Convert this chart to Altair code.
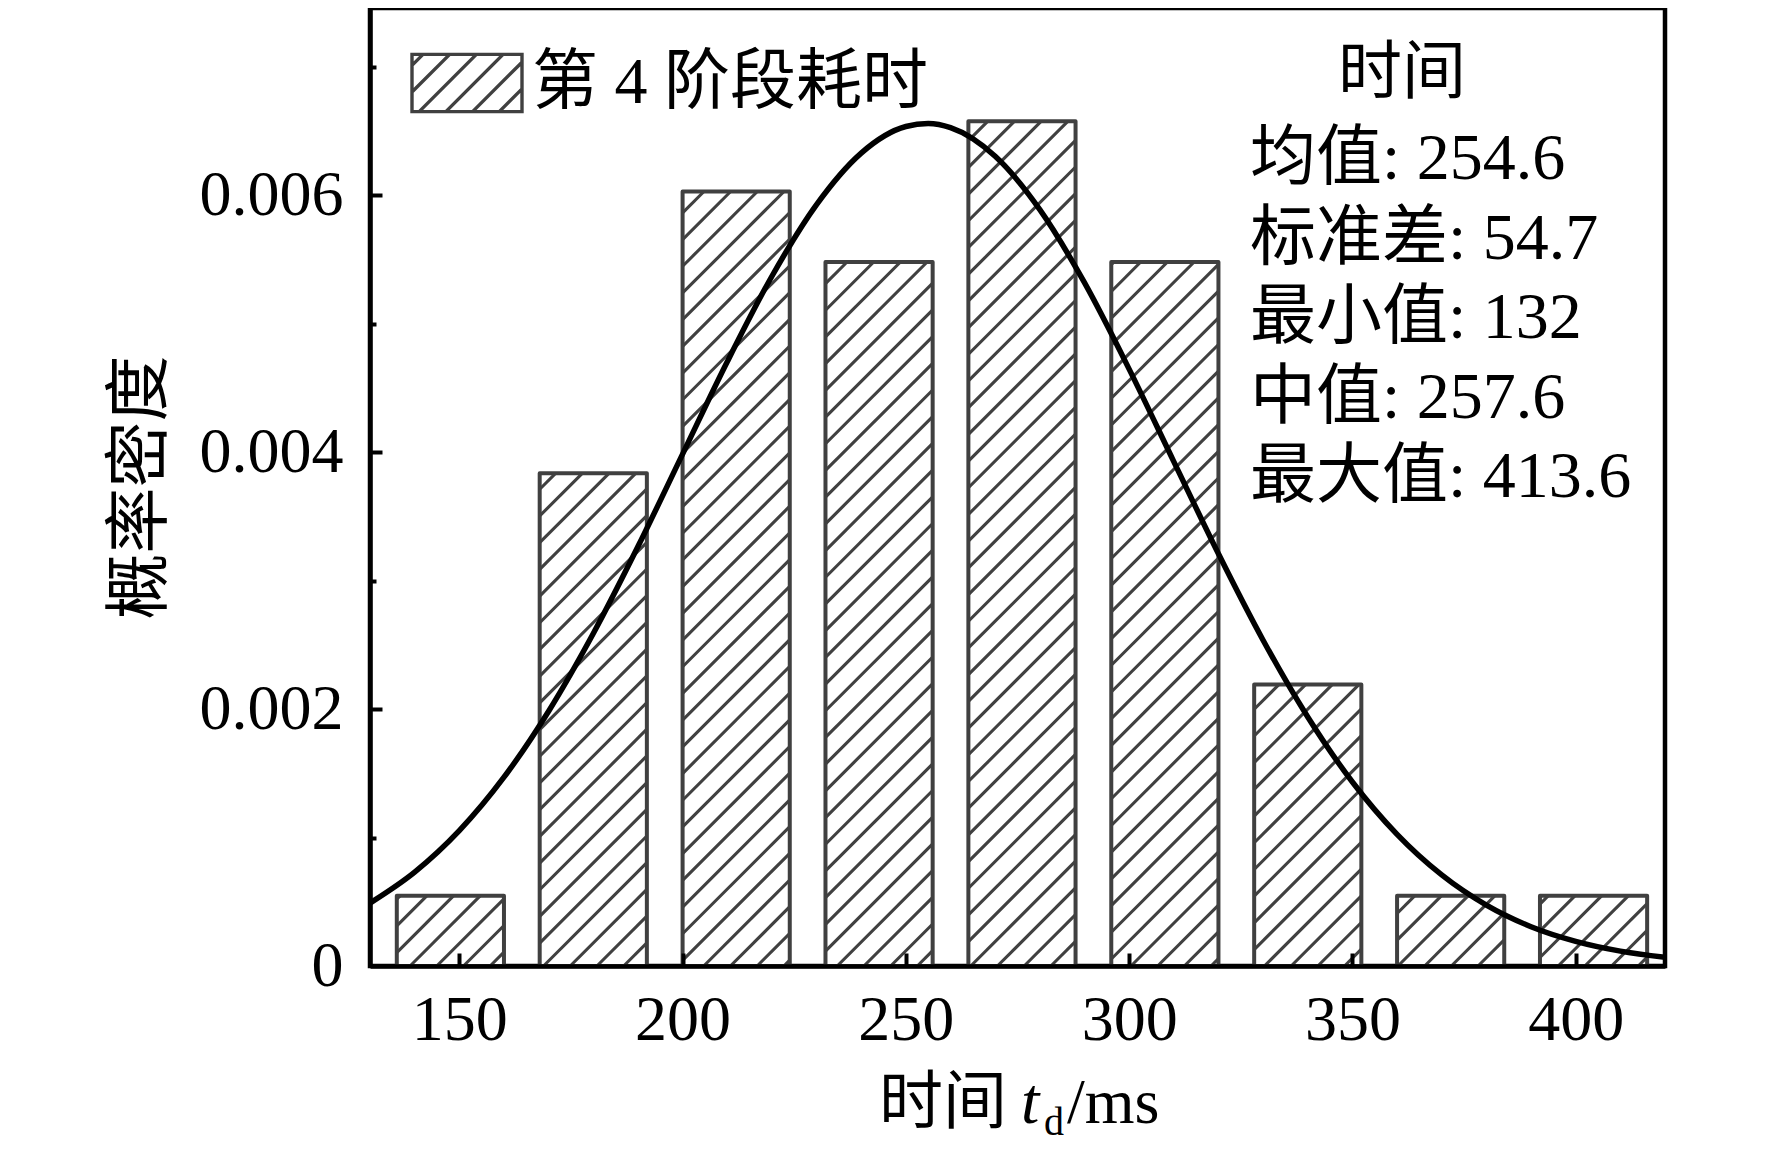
import math
import altair as alt
import pandas as pd

# ---------------- data ----------------
bin_centers = [148, 180, 212, 244, 276, 308, 340, 372, 404]
densities = [0.000548, 0.003838, 0.006031, 0.005482, 0.006579,
             0.005482, 0.002193, 0.000548, 0.000548]

curve_x = [130, 140, 150, 160, 170, 180, 190, 200, 210, 220, 230, 240, 250,
           255, 260, 270, 280, 290, 300, 310, 320, 330, 340, 350, 360, 370,
           380, 390, 400, 410, 420]
curve_y = [0.000490, 0.000731, 0.001054, 0.001470, 0.001984, 0.002589,
           0.003266, 0.003986, 0.004705, 0.005371, 0.005929, 0.006330,
           0.006537, 0.006560, 0.006528, 0.006305, 0.005890, 0.005321,
           0.004648, 0.003928, 0.003210, 0.002537, 0.001939, 0.001433,
           0.001025, 0.000709, 0.000474, 0.000306, 0.000192, 0.000116,
           0.000068]

x_ticks = [150, 200, 250, 300, 350, 400]
y_ticks = [0, 0.002, 0.004, 0.006]
y_all_ticks = [0.001, 0.002, 0.003, 0.004, 0.005, 0.006, 0.007]

legend_label = "第 4 阶段耗时"
y_title = "概率密度"
x_title_cjk = "时间"
x_title_var = "t"
x_title_sub = "d"
x_title_unit = "/ms"
stats_title = "时间"
stat_names = ["均值", "标准差", "最小值", "中值", "最大值"]
stat_values = ["254.6", "54.7", "132", "257.6", "413.6"]

# ---------------- layout / style ----------------
W, H = 1295, 958
XDOM = [130, 420]
YDOM = [0, 0.00746]
BIN = 32
BAR_W = BIN * 0.75
GREY = "#404040"
SERIF = "Liberation Serif, Noto Sans CJK SC"
CJK = "Noto Sans CJK SC"

bars = pd.DataFrame({
    "center": bin_centers,
    "density": densities,
    "label": [legend_label] * len(bin_centers),
})
bars["x0"] = bars["center"] - BAR_W / 2
bars["x1"] = bars["center"] + BAR_W / 2
bars["base"] = 0.0

# diagonal hatch lines (45 deg on screen), clipped to each bar
sx = W / (XDOM[1] - XDOM[0])
sy = H / (YDOM[1] - YDOM[0])
P, PH = 26.7, 13.35
segs = []
for x0, x1, d in zip(bars["x0"], bars["x1"], bars["density"]):
    A = (x0 - XDOM[0]) * sx
    B = (x1 - XDOM[0]) * sx
    Hb = d * sy
    k = math.ceil((A - Hb - PH) / P)
    while True:
        c = PH + k * P
        if c >= B:
            break
        if c > A - Hb:
            p1 = (c, 0.0) if c >= A else (A, A - c)
            p2 = (c + Hb, Hb) if c + Hb <= B else (B, B - c)
            segs.append({"x": p1[0] / sx + XDOM[0], "y": p1[1] / sy,
                         "x2": p2[0] / sx + XDOM[0], "y2": p2[1] / sy})
        k += 1
hatch = pd.DataFrame(segs)

# legend symbol: rectangle with hatch
hh = 0.52
step = 26.7 / 55
parts = [f"M-1,{-hh}H1V{hh}H-1Z"]
c = -1 - hh + 0.2
while c < 1 + hh:
    xa, ya = c - hh, hh
    if xa < -1:
        xa, ya = -1, c + 1
    xb, yb = c + hh, -hh
    if xb > 1:
        xb, yb = 1, c - 1
    if xb > xa:
        parts.append(f"M{xa:.3f},{ya:.3f}L{xb:.3f},{yb:.3f}")
    c += step
legend_path = "".join(parts)

curve = pd.DataFrame({"x": curve_x, "y": curve_y})

xs = alt.Scale(domain=XDOM, nice=False, zero=False)
ys = alt.Scale(domain=YDOM, nice=False, zero=False)

axis_bottom = alt.Axis(values=x_ticks, ticks=False, tickSize=0, grid=False,
                       domain=True, domainColor="black", domainWidth=4.5,
                       labelFont="Liberation Serif", labelFontSize=64,
                       labelColor="black", labelPadding=22, labelFlush=False,
                       labelOverlap=False, title=None, zindex=1)
axis_left = alt.Axis(values=y_ticks, ticks=False, tickSize=0, grid=False,
                     domain=True, domainColor="black", domainWidth=4.5,
                     labelFont="Liberation Serif", labelFontSize=64,
                     labelColor="black", labelPadding=27,
                     labelExpr="datum.value == 0 ? '0' : format(datum.value, '.3f')",
                     title=y_title, titleFont=CJK, titleFontSize=66,
                     titleFontWeight="normal", titleColor="black",
                     titleAngle=270, titleX=-230, titleY=H / 2,
                     titleBaseline="middle", titleAlign="center", zindex=1)
axis_y_in = alt.Axis(orient="right", offset=-W, values=y_all_ticks,
                     labels=False, domain=False, grid=False, ticks=True,
                     tickColor="black", tickWidth=4,
                     tickSize={"condition": {"test": "round(datum.value*1000) % 2 == 0",
                                             "value": 12}, "value": 6},
                     title=None, zindex=1)
axis_x_in = alt.Axis(orient="top", offset=-H, values=x_ticks, labels=False,
                     domain=False, grid=False, ticks=True, tickColor="black",
                     tickWidth=4, tickSize=13, title=None, zindex=1)

bar_fill = alt.Chart(bars).mark_rect(strokeWidth=0).encode(
    x=alt.X("x0:Q", scale=xs, axis=axis_bottom),
    x2="x1:Q",
    y=alt.Y("base:Q", scale=ys, axis=axis_left),
    y2="density:Q",
    fill=alt.Fill("label:N", scale=alt.Scale(range=["white"]),
                  legend=alt.Legend(orient="none", legendX=40, legendY=18,
                                    title=None, symbolType=legend_path,
                                    symbolSize=12100, symbolStrokeWidth=3.4,
                                    symbolStrokeColor=GREY,
                                    symbolFillColor="white", symbolOpacity=1,
                                    labelFont=SERIF, labelFontSize=66,
                                    labelColor="black", labelOffset=8,
                                    labelLimit=0, padding=0)),
)

hatch_layer = alt.Chart(hatch).mark_rule(color=GREY, strokeWidth=3.1,
                                         strokeCap="butt").encode(
    x=alt.X("x:Q", scale=xs, axis=None),
    y=alt.Y("y:Q", scale=ys, axis=None),
    x2="x2:Q",
    y2="y2:Q",
)

bar_outline = alt.Chart(bars).mark_rect(filled=False, color=GREY,
                                        strokeWidth=4, strokeJoin="round").encode(
    x=alt.X("x0:Q", scale=xs, axis=None),
    x2="x1:Q",
    y=alt.Y("base:Q", scale=ys, axis=axis_y_in),
    y2="density:Q",
)

curve_layer = alt.Chart(curve).mark_line(color="black", strokeWidth=5.5,
                                         interpolate="monotone", clip=True).encode(
    x=alt.X("x:Q", scale=xs, axis=axis_x_in),
    y=alt.Y("y:Q", scale=ys, axis=None),
)

one = pd.DataFrame({"a": [0]})
stats_head = alt.Chart(one).mark_text(text=stats_title, font=CJK, fontSize=64,
                                      align="center", baseline="alphabetic",
                                      color="black").encode(
    x=alt.value(1032), y=alt.value(85))
stats_lines = [f"{n}: {v}" for n, v in zip(stat_names, stat_values)]
stats_body = alt.Chart(one).mark_text(text=stats_lines, font=SERIF, fontSize=66,
                                      align="left", baseline="top",
                                      lineHeight=79.5, color="black").encode(
    x=alt.value(880), y=alt.value(119))

xt1 = alt.Chart(one).mark_text(text=x_title_cjk, font=CJK, fontSize=64,
                               align="left", baseline="alphabetic",
                               color="black").encode(
    x=alt.value(509), y=alt.value(1115))
xt2 = alt.Chart(one).mark_text(text=x_title_var, font="Liberation Serif",
                               fontStyle="italic", fontSize=66, align="left",
                               baseline="alphabetic", color="black").encode(
    x=alt.value(651), y=alt.value(1115))
xt3 = alt.Chart(one).mark_text(text=x_title_sub, font="Liberation Serif",
                               fontSize=40, align="left", baseline="alphabetic",
                               color="black").encode(
    x=alt.value(674), y=alt.value(1127))
xt4 = alt.Chart(one).mark_text(text=x_title_unit, font="Liberation Serif",
                               fontSize=64, align="left", baseline="alphabetic",
                               color="black").encode(
    x=alt.value(697), y=alt.value(1115))

chart = alt.layer(
    bar_fill, hatch_layer, bar_outline, curve_layer,
    stats_head, stats_body, xt1, xt2, xt3, xt4,
).resolve_axis(x="independent", y="independent").properties(
    width=W, height=H,
    autosize=alt.AutoSizeParams(type="none"),
    padding={"left": 362, "top": 0, "right": 99, "bottom": 182},
    background="white",
).configure_view(stroke="black", strokeWidth=4.5)

chart.save("out.html", embed_options={"renderer": "svg", "actions": False})
